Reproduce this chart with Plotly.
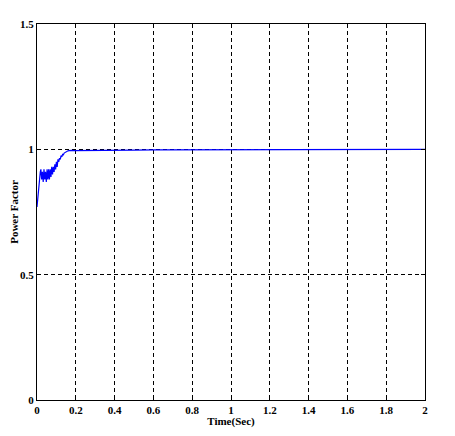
import plotly.graph_objects as go

time_s = [0.000, 0.002, 0.005, 0.009, 0.013, 0.017, 0.020, 0.024, 0.028, 0.032, 0.036,
          0.040, 0.044, 0.048, 0.052, 0.056, 0.060, 0.064, 0.068, 0.072, 0.076,
          0.080, 0.084, 0.088, 0.092, 0.096, 0.100, 0.104, 0.108, 0.112, 0.116,
          0.120, 0.124, 0.128, 0.132, 0.136, 0.140, 0.145, 0.150, 0.155, 0.160,
          0.165, 0.170, 0.180, 0.190, 0.200, 0.220, 0.250, 0.300, 0.400, 0.500,
          0.600, 0.700, 0.800, 0.900, 1.000, 1.100, 1.200, 1.300, 1.400, 1.500,
          1.600, 1.700, 1.800, 1.900, 2.000]
power_factor = [0.77, 0.79, 0.82, 0.85, 0.88, 0.91, 0.92, 0.88, 0.91, 0.87, 0.92,
                0.88, 0.91, 0.87, 0.92, 0.88, 0.92, 0.88, 0.92, 0.89, 0.93,
                0.90, 0.93, 0.91, 0.94, 0.92, 0.95, 0.93, 0.96, 0.95, 0.965,
                0.96, 0.975, 0.97, 0.98, 0.978, 0.985, 0.988, 0.99, 0.992, 0.994,
                0.995, 0.996, 0.996, 0.995, 0.995, 0.994, 0.995, 0.996, 0.997, 0.997,
                0.998, 0.998, 0.998, 0.999, 0.998, 0.999, 0.999, 0.999, 0.999, 0.999,
                0.999, 1.0, 1.0, 1.0, 1.0]

x_ticks = [0, 0.2, 0.4, 0.6, 0.8, 1, 1.2, 1.4, 1.6, 1.8, 2]
x_tick_labels = ["0", "0.2", "0.4", "0.6", "0.8", "1", "1.2", "1.4", "1.6", "1.8", "2"]
y_ticks = [0, 0.5, 1, 1.5]
y_tick_labels = ["0", "0.5", "1", "1.5"]

font_family = "Liberation Serif"

fig = go.Figure()
fig.add_trace(go.Scatter(x=time_s, y=power_factor, mode="lines",
                         line=dict(color="#0000ff", width=1.2), showlegend=False))

axis_common = dict(showline=True, linecolor="black", linewidth=1, mirror="ticks",
                   ticks="inside", ticklen=4, tickcolor="black",
                   showgrid=True, gridcolor="black", gridwidth=1, griddash="4px,3px",
                   zeroline=False, automargin=False,
                   tickfont=dict(family=font_family, size=11, color="black", weight="bold"))

fig.update_xaxes(range=[0, 2], tickvals=x_ticks, ticktext=x_tick_labels,
                 title=dict(text="Time(Sec)", standoff=6,
                            font=dict(family=font_family, size=11, color="black", weight="bold")),
                 **axis_common)
fig.update_yaxes(range=[0, 1.5], tickvals=y_ticks, ticktext=y_tick_labels,
                 title=dict(text="Power Factor", standoff=8,
                            font=dict(family=font_family, size=11, color="black", weight="bold")),
                 **axis_common)

fig.update_layout(width=439, height=420,
                  margin=dict(l=29, r=22, t=16, b=28),
                  paper_bgcolor="white", plot_bgcolor="white")

fig.write_html("out.html")
